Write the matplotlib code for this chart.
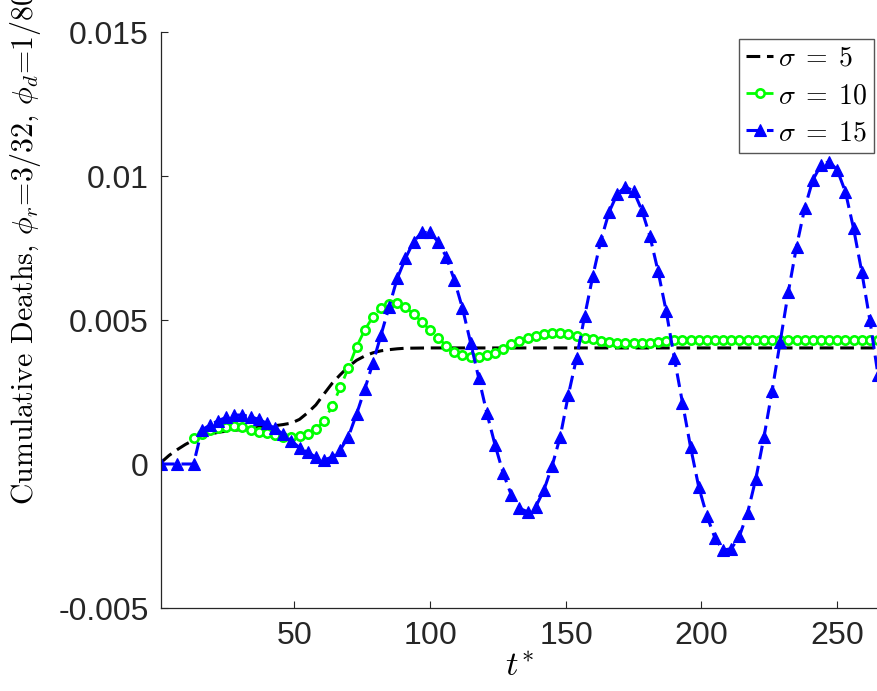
import numpy as np
import matplotlib
matplotlib.use("Agg")
import matplotlib.pyplot as plt

plt.rcParams['font.family'] = ['Liberation Sans', 'DejaVu Sans']
plt.rcParams['mathtext.fontset'] = 'cm'
plt.rcParams['axes.formatter.use_mathtext'] = True

# sigma = 5 (black dashed, no markers)
t_black = [1, 4, 7, 10, 13, 16, 19, 22, 25, 28, 31, 34, 37, 40, 43, 46, 49, 52,
           55, 58, 61, 64, 67, 70, 73, 76, 79, 82, 85, 88, 91, 100, 150, 200, 265]
d_black = [0.00005, 0.0003, 0.0005, 0.00068, 0.00083, 0.00095, 0.00103, 0.0011,
           0.00114, 0.00117, 0.0012, 0.00123, 0.00127, 0.0013, 0.00133, 0.00137,
           0.00142, 0.00155, 0.00178, 0.00205, 0.00243, 0.0028, 0.0031, 0.00338,
           0.0036, 0.00375, 0.00386, 0.00393, 0.00397, 0.004, 0.00402, 0.00403,
           0.00403, 0.00403, 0.00403]

# sigma = 10 (green, circles)
t_green = list(range(13, 266, 3))
d_green = [0.00089, 0.00105, 0.00118, 0.00124, 0.0013, 0.00132, 0.00127, 0.00118, 0.00112, 0.00106,
           0.00101, 0.00095, 0.00093, 0.00097, 0.00104, 0.0012, 0.0015, 0.002, 0.00266, 0.00334,
           0.00407, 0.00465, 0.00511, 0.0054, 0.00556, 0.00558, 0.00544, 0.00521, 0.00494, 0.00465,
           0.00439, 0.0041, 0.0039, 0.00377, 0.0037, 0.00373, 0.00378, 0.00386, 0.00398, 0.00416,
           0.00427, 0.00436, 0.00446, 0.0045, 0.00454, 0.00454, 0.0045, 0.00444, 0.00439, 0.00433,
           0.00427, 0.00423, 0.00419, 0.00419, 0.00419, 0.00421, 0.00421, 0.00425, 0.00428, 0.0043,
           0.00431, 0.00432, 0.00432, 0.00431, 0.0043, 0.0043, 0.00429, 0.00429, 0.00429, 0.0043,
           0.0043, 0.0043, 0.0043, 0.0043, 0.0043, 0.0043, 0.0043, 0.0043, 0.0043, 0.0043,
           0.0043, 0.0043, 0.0043, 0.0043, 0.0043]

# sigma = 15 (blue, triangles)
t_blue = [1, 7, 13] + list(range(16, 266, 3))
d_blue = [0.0, 0.0, 0.0,
          0.00118, 0.00135, 0.0015, 0.00162, 0.0017, 0.0017, 0.00164, 0.00155, 0.00141, 0.00124,
          0.00103, 0.0008, 0.00057, 0.0004, 0.00024, 0.00014, 0.00024, 0.00049, 0.00095, 0.00173,
          0.00259, 0.0035, 0.00448, 0.00546, 0.00645, 0.00714, 0.00772, 0.00804, 0.00804, 0.00772,
          0.0072, 0.00639, 0.00541, 0.00421, 0.00298, 0.00176, 0.00066, -0.00032, -0.00108, -0.00154,
          -0.00166, -0.00148, -0.0009, -0.00007, 0.00095, 0.0024, 0.00368, 0.00514, 0.00653, 0.00778,
          0.00875, 0.00938, 0.00962, 0.00948, 0.00882, 0.00792, 0.0067, 0.00531, 0.00368, 0.00213,
          0.00058, -0.0008, -0.0018, -0.00258, -0.00299, -0.00294, -0.0025, -0.00169, -0.00052, 0.00093,
          0.00254, 0.00425, 0.00598, 0.00755, 0.00888, 0.00986, 0.01038, 0.0105, 0.01021, 0.00945,
          0.00818, 0.00668, 0.005, 0.00309]

labels = [r'$\sigma\;=\;5$', r'$\sigma\;=\;10$', r'$\sigma\;=\;15$']
xticks = [50, 100, 150, 200, 250]
yticks = [-0.005, 0, 0.005, 0.01, 0.015]
yticklabels = ['-0.005', '0', '0.005', '0.01', '0.015']

fig = plt.figure(figsize=(8.78, 6.91), dpi=100)
ax = fig.add_axes([161/878, 83/691, 717/878, 576/691])

dash = (4.5, 2.2)
ax.plot(t_black, d_black, color='k', lw=2.2, dashes=dash, label=labels[0])
ax.plot(t_green, d_green, color=(0, 1, 0), lw=2.0, dashes=dash, marker='o',
        ms=6, mew=1.9, mfc='white', mec=(0, 1, 0), label=labels[1])
ax.plot(t_blue, d_blue, color=(0, 0, 1), lw=2.2, dashes=dash, marker='^',
        ms=8.5, mew=0.8, mfc=(0, 0, 1), mec=(0, 0, 1), label=labels[2])

ax.set_xlim(1, 265)
ax.set_ylim(-0.005, 0.015)
ax.set_xticks(xticks)
ax.set_yticks(yticks)
ax.set_yticklabels(yticklabels)

for s in ['top', 'right']:
    ax.spines[s].set_visible(False)
for s in ['left', 'bottom']:
    ax.spines[s].set_color('#262626')
    ax.spines[s].set_linewidth(0.9)
ax.tick_params(direction='in', length=5, width=0.8, colors='#262626',
               labelsize=23, pad=9)

ax.set_xlabel(r'$t^{*}$', fontsize=25, labelpad=0)
fig.text(26/878, 186/691,
         r'Cumulative Deaths, $\phi_r$=3/32, $\phi_d$=1/80',
         rotation=90, ha='center', va='bottom', fontsize=21.5, family='cmr10')

leg = ax.legend(loc='upper right', bbox_to_anchor=(874/878, 652/691),
                bbox_transform=fig.transFigure, borderaxespad=0,
                fontsize=20, handlelength=1.0, handletextpad=0.15,
                labelspacing=0.4, borderpad=0.25, fancybox=False,
                framealpha=1, numpoints=1)
leg.get_frame().set_edgecolor('#555555')
leg.get_frame().set_linewidth(1.0)

fig.savefig('out.png', dpi=100)
